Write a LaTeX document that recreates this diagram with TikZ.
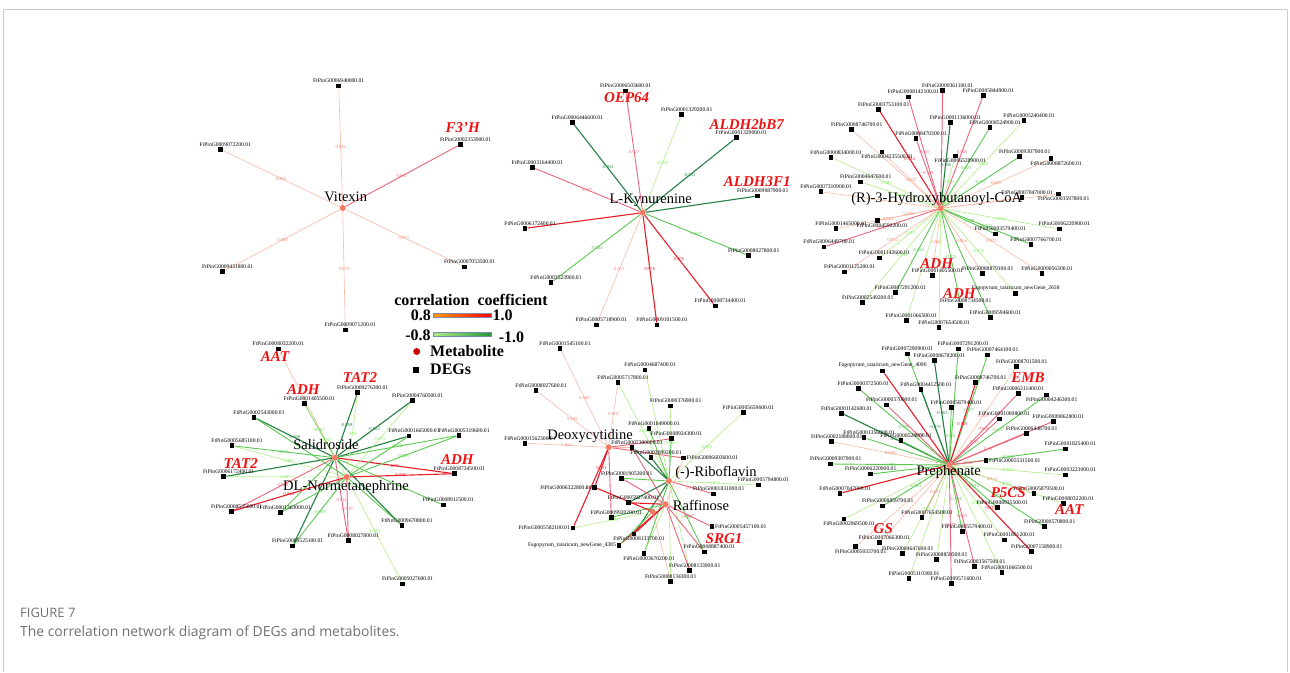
\documentclass[tikz,border=0pt]{standalone}
\usepackage{fontspec}
\setmainfont{Liberation Serif}
\newfontfamily\capfont{Open Sans}
\usepackage{tikz}
\usetikzlibrary{positioning}
\usetikzlibrary{backgrounds}

\definecolor{posA}{RGB}{248,186,165}
\definecolor{posB}{RGB}{236,100,122}
\definecolor{posC}{RGB}{232,30,42}
\definecolor{negA}{RGB}{178,236,136}
\definecolor{negB}{RGB}{92,200,82}
\definecolor{negC}{RGB}{38,128,68}
\definecolor{metred}{RGB}{244,122,102}
\definecolor{keyred}{RGB}{238,18,18}
\definecolor{legred}{RGB}{200,8,8}
\definecolor{barblue}{RGB}{120,140,175}
\definecolor{framegray}{RGB}{205,205,205}
\definecolor{capgray}{RGB}{112,112,112}

\tikzset{
  deg/.style={rectangle, fill=black, minimum size=4.6pt, inner sep=0pt},
  met/.style={circle, fill=metred, minimum size=6pt, inner sep=0pt},
  gname/.style={font=\fontsize{5.6}{6}\selectfont, inner sep=0.5pt},
  gu/.style={label={[gname,xshift=5pt]above:#1}},
  gc/.style={label={[gname]above:#1}},
  gd/.style={label={[gname,xshift=5pt]below:#1}},
  gl/.style={label={[gname]left:#1}},
  gr/.style={label={[gname]right:#1}},
  mname/.style={font=\fontsize{14.5}{15}\selectfont, inner sep=0pt},
  keyname/.style={font=\fontsize{15}{15}\selectfont\bfseries\itshape, text=keyred, inner sep=0pt},
  cval/.style={font=\fontsize{4.6}{4.7}\selectfont, inner sep=0.2pt},
  pa/.style={draw=posA, text=posA!70!red, line width=0.6pt},
  pb/.style={draw=posB, text=posB, line width=0.9pt},
  pc/.style={draw=posC, text=posC, line width=1.1pt},
  na/.style={draw=negA, text=negA!70!green, line width=0.6pt},
  nb/.style={draw=negB, text=negB, line width=0.9pt},
  nc/.style={draw=negC, text=negC, line width=1.1pt},
  legtext/.style={font=\fontsize{16}{16}\selectfont\bfseries, inner sep=0pt},
}

\begin{document}
\begin{tikzpicture}[x=1pt,y=-1pt]
  \useasboundingbox (0,0) rectangle (1290,672);
  \draw[framegray, line width=0.8pt] (3,672) -- (3,9.5) -- (1287,9.5) -- (1287,672);

  % Vitexin
  \node[met] (vit) at (342.7,208) {};
  \node[mname] (vitn) at (345.7,196.5) {Vitexin};
  \node[deg,gc=FtPinG0006940000.01] (v1) at (338.7,86) {};
  \node[deg,gu=FtPinG0009072200.01] (v2) at (220.3,149.3) {};
  \node[deg,gu=FtPinG0002353900.01] (v3) at (460.7,144.3) {};
  \node[deg,gu=FtPinG0009431800.01] (v4) at (222.7,271.7) {};
  \node[deg,gu=FtPinG0007053500.01] (v5) at (464.7,267) {};
  \node[deg,gu=FtPinG0009071200.01] (v6) at (345.3,330) {};
  \node[keyname] (f3h) at (462.7,127.7) {F3’H};

  % L-Kynurenine
  \node[met] (kyn) at (642.7,212.7) {};
  \node[mname] (kynn) at (650.7,200.5) {L-Kynurenine};
  \node[deg,gc=FtPinG0006503600.01] (k1) at (625.7,91) {};
  \node[deg,gu=FtPinG0001329200.01] (k2) at (681.7,114.3) {};
  \node[deg,gu=FtPinG0006446600.01] (k3) at (572.3,122.3) {};
  \node[deg,gu=FtPinG0001329000.01] (k4) at (736.3,137.7) {};
  \node[deg,gu=FtPinG0003164400.01] (k5) at (532.3,167.3) {};
  \node[deg,gu=FtPinG0009987900.01] (k6) at (757.7,196) {};
  \node[deg,gu=FtPinG0006172400.01] (k7) at (525,228.3) {};
  \node[deg,gu=FtPinG0008027800.01] (k8) at (748.7,255.7) {};
  \node[deg,gu=FtPinG0003523900.01] (k9) at (551,282.7) {};
  \node[deg,gu=FtPinG0008734400.01] (k10) at (715.3,306) {};
  \node[deg,gu=FtPinG0005718900.01] (k11) at (596.3,325) {};
  \node[deg,gu=FtPinG0009101500.01] (k12) at (657,325) {};
  \node[keyname] (oep) at (626.7,97.3) {OEP64};
  \node[keyname] (aldha) at (746.7,124.3) {ALDH2bB7};
  \node[keyname] (aldhb) at (757.3,181.7) {ALDH3F1};

  % (R)-3-Hydroxybutanoyl-CoA
  \node[met] (hb) at (940.7,208.3) {};
  \node[mname] (hbn) at (936.7,199.5) {(R)-3-Hydroxybutanoyl-CoA};
  \node[deg,gu=FtPinG0009361100.01] (h1) at (942.7,90.3) {};
  \node[deg,gu=FtPinG0008142100.01] (h2) at (908.3,97) {};
  \node[deg,gu=FtPinG0005844900.01] (h3) at (983.3,95.3) {};
  \node[deg,gu=FtPinG0003753100.01] (h4) at (878.7,109.3) {};
  \node[deg,gu=FtPinG0001136000.01] (h5) at (950.3,122.7) {};
  \node[deg,gu=FtPinG0008524900.01] (h6) at (990,127.3) {};
  \node[deg,gu=FtPinG0005240400.01] (h7) at (1024,120.3) {};
  \node[deg,gu=FtPinG0008746700.01] (h8) at (851.7,129.7) {};
  \node[deg,gu=FtPinG0008470300.01] (h9) at (916,138.7) {};
  \node[deg,gd=FtPinG0004235500.01] (h10) at (882,152) {};
  \node[deg,gu=FtPinG0000834000.01] (h11) at (831,157.3) {};
  \node[deg,gu=FtPinG0009307900.01] (h12) at (1019.7,156.7) {};
  \node[deg,gd=FtPinG0006528900.01] (h13) at (955.3,156) {};
  \node[deg,gd=FtPinG0008872600.01] (h14) at (1051,158.7) {};
  \node[deg,gu=FtPinG0004647600.01] (h15) at (860.7,182) {};
  \node[deg,gu=FtPinG0007310900.01] (h16) at (821,191.7) {};
  \node[deg,gu=FtPinG0007047000.01] (h17) at (1022,197.7) {};
  \node[deg,gd=FtPinG0003597800.01] (h18) at (1058.7,194) {};
  \node[deg,gu=FtPinG0001465000.01] (h19) at (836,228.7) {};
  \node[deg,gd=FtPinG0004590200.01] (h20) at (877.3,220.3) {};
  \node[deg,gu=FtPinG0006449700.01] (h21) at (824,247) {};
  \node[deg,gu=FtPinG0003579400.01] (h22) at (995.3,234) {};
  \node[deg,gu=FtPinG0006220900.01] (h23) at (1059.3,229) {};
  \node[deg,gu=FtPinG0007766700.01] (h24) at (1031,244.3) {};
  \node[deg,gu=FtPinG0001142600.01] (h25) at (879.3,258) {};
  \node[deg,gu=FtPinG0001125200.01] (h26) at (844.7,272) {};
  \node[deg,gu=FtPinG0001405500.01] (h27) at (932.3,275.3) {};
  \node[deg,gu=FtPinG0008879100.01] (h28) at (982.7,273.7) {};
  \node[deg,gu=FtPinG0009056300.01] (h29) at (1042,273.3) {};
  \node[deg,gc={Fagopyrum\_tataricum\_newGene\_2658}] (h30) at (1015.7,293.7) {};
  \node[deg,gu=FtPinG0007291200.01] (h31) at (895.3,292.3) {};
  \node[deg,gu=FtPinG0002549200.01] (h32) at (862.7,302.3) {};
  \node[deg,gu=FtPinG0008734500.01] (h33) at (960.7,305.3) {};
  \node[deg,gu=FtPinG0009594600.01] (h34) at (990.3,317.3) {};
  \node[deg,gu=FtPinG0001066500.01] (h35) at (906.3,320.3) {};
  \node[deg,gu=FtPinG0007654500.01] (h36) at (939,327.7) {};
  \node[keyname] (adha) at (936.7,263.3) {ADH};
  \node[keyname] (adhb) at (959.3,294) {ADH};

  % legend
  \node[legtext] (legt) at (471,300) {correlation\ \ coefficient};
  \node[legtext] (lp8) at (420.8,315) {0.8};
  \node[draw=barblue, left color=orange!80!yellow, right color=red, minimum width=58pt, minimum height=3.5pt, inner sep=0pt] (lbarp) at (462.5,315) {};
  \node[legtext] (lp1) at (502.5,315) {1.0};
  \node[legtext] (ln8) at (418,335) {-0.8};
  \node[draw=barblue, left color=negA, right color=negC!80!green, minimum width=58pt, minimum height=3.5pt, inner sep=0pt] (lbarn) at (462.5,334.3) {};
  \node[legtext] (ln1) at (511.5,337) {-1.0};
  \node[circle, fill=legred, minimum size=7pt, inner sep=0pt] (lmet) at (416.7,351.5) {};
  \node[legtext, anchor=west] (lmett) at (430,351.5) {Metabolite};
  \node[rectangle, fill=black, minimum size=6.5pt, inner sep=0pt] (ldeg) at (416.2,370) {};
  \node[legtext, anchor=west] (ldegt) at (430,369.5) {DEGs};

  % Salidroside and DL-Normetanephrine
  \node[met] (sal) at (335,457.7) {};
  \node[mname] (saln) at (326,445) {Salidroside};
  \node[met] (dln) at (346.7,477) {};
  \node[mname] (dlnn) at (346,487) {DL-Normetanephrine};
  \node[deg,gc=FtPinG0008032200.01] (s1) at (278.3,349) {};
  \node[deg,gu=FtPinG0001405500.01] (s2) at (304.3,403.3) {};
  \node[deg,gu=FtPinG0009276300.01] (s3) at (357.7,392.3) {};
  \node[deg,gu=FtPinG0004760500.01] (s4) at (412.7,400.3) {};
  \node[deg,gu=FtPinG0002543000.01] (s5) at (254,417.3) {};
  \node[deg,gu=FtPinG0001665000.01] (s6) at (409,436) {};
  \node[deg,gu=FtPinG0005319600.01] (s7) at (459,435.3) {};
  \node[deg,gu=FtPinG0005685100.01] (s8) at (232,445.7) {};
  \node[deg,gu=FtPinG0006172400.01] (s9) at (223.7,476.7) {};
  \node[deg,gu=FtPinG0008734500.01] (s10) at (454.3,473.7) {};
  \node[deg,gu=FtPinG0008911500.01] (s11) at (443.3,505) {};
  \node[deg,gu=FtPinG0008535000.01] (s12) at (231.7,511.3) {};
  \node[deg,gu=FtPinG0001363000.01] (s13) at (280.3,512.7) {};
  \node[deg,gu=FtPinG0009670800.01] (s14) at (402,525.7) {};
  \node[deg,gu=FtPinG0008027800.01] (s15) at (348.3,540.7) {};
  \node[deg,gu=FtPinG0005525100.01] (s16) at (292.7,546) {};
  \node[deg,gu=FtPinG0005027600.01] (s17) at (402.7,584) {};
  \node[keyname] (aata) at (275,356.7) {AAT};
  \node[keyname] (adhc) at (303.3,390) {ADH};
  \node[keyname] (tata) at (360,377.3) {TAT2};
  \node[keyname] (tatb) at (240.7,464) {TAT2};
  \node[keyname] (adhd) at (457.3,460) {ADH};

  % Deoxycytidine, (-)-Riboflavin and Raffinose
  \node[met] (dc) at (608.7,447.3) {};
  \node[mname] (dcn) at (590,436) {Deoxycytidine};
  \node[met] (rf) at (669,481) {};
  \node[mname] (rfn) at (716,472.7) {(-)-Riboflavin};
  \node[met] (ra) at (665.7,504.3) {};
  \node[mname] (ran) at (701,505) {Raffinose};
  \node[met] (m4) at (652.7,511.7) {};
  \node[deg,gu=FtPinG0001545100.01] (d1) at (560,348.3) {};
  \node[deg,gu=FtPinG0004687400.01] (d2) at (645,370) {};
  \node[deg,gu=FtPinG0005717800.01] (d3) at (618,382.3) {};
  \node[deg,gu=FtPinG0008027600.01] (d4) at (536,390.3) {};
  \node[deg,gu=FtPinG0000376900.01] (d5) at (670.7,406) {};
  \node[deg,gu=FtPinG0005659600.01] (d6) at (743.3,412.3) {};
  \node[deg,gu=FtPinG0001849000.01] (d7) at (649,428.7) {};
  \node[deg,gu=FtPinG0008924300.01] (d8) at (671.3,438.7) {};
  \node[deg,gu=FtPinG0001562300.01] (d9) at (525,443.3) {};
  \node[deg,gu=FtPinG0007300600.01] (d10) at (632,447.3) {};
  \node[deg,gu=FtPinG0003099200.01] (d11) at (651,457.3) {};
  \node[deg,gr=FtPinG0006603600.01] (d12) at (683.7,458) {};
  \node[deg,gu=FtPinG0001905300.01] (d13) at (621.7,478.3) {};
  \node[deg,gu=FtPinG0005794800.01] (d14) at (758.3,485) {};
  \node[deg,gl=FtPinG0006322800.01] (d15) at (594.7,487.3) {};
  \node[deg,gu=FtPinG0001831000.01] (d16) at (713.7,494) {};
  \node[deg,gu=FtPinG0005927400.01] (d17) at (628.3,502.7) {};
  \node[deg,gu=FtPinG0009920200.01] (d18) at (611.3,517.3) {};
  \node[deg,gl=FtPinG0005582100.01] (d19) at (573,528) {};
  \node[deg,gr=FtPinG0005457100.01] (d20) at (712,526.7) {};
  \node[deg,gd=FtPinG0008133700.01] (d21) at (634,534) {};
  \node[deg,gl={Fagopyrum\_tataricum\_newGene\_4385}] (d22) at (619,545.3) {};
  \node[deg,gu=FtPinG0008887400.01] (d23) at (704.3,552) {};
  \node[deg,gd=FtPinG0003670200.01] (d24) at (644,553.7) {};
  \node[deg,gu=FtPinG0008133900.01] (d25) at (689.7,570.3) {};
  \node[deg,gc=FtPinG0008134300.01] (d26) at (670.7,581.7) {};
  \node[keyname] (srg) at (724,539) {SRG1};

  % Prephenate
  \node[met] (pre) at (949.3,465) {};
  \node[mname] (pren) at (948.7,472) {Prephenate};
  \node[deg,gu=FtPinG0007291200.01] (p1) at (958.3,349) {};
  \node[deg,gc=FtPinG0007290900.01] (p2) at (907.3,354) {};
  \node[deg,gu=FtPinG0008678200.01] (p3) at (934.3,360.7) {};
  \node[deg,gu=FtPinG0007464100.01] (p4) at (987.7,355) {};
  \node[deg,gu=FtPinG0008701500.01] (p5) at (1016.7,366.7) {};
  \node[deg,gc={Fagopyrum\_tataricum\_newGene\_4090}] (p6) at (882.7,371) {};
  \node[deg,gu=FtPinG0008746700.01] (p7) at (975.7,382.7) {};
  \node[deg,gu=FtPinG0000372500.01] (p8) at (858.3,388.3) {};
  \node[deg,gu=FtPinG0004412500.01] (p9) at (921,389.5) {};
  \node[deg,gc=FtPinG0006311400.01] (p10) at (1018.3,393.3) {};
  \node[deg,gd=FtPinG0004246300.01] (p11) at (1046.7,395) {};
  \node[deg,gu=FtPinG0000570000.01] (p12) at (886.7,405) {};
  \node[deg,gu=FtPinG0005879400.01] (p13) at (951.3,407.7) {};
  \node[deg,gu=FtPinG0001142600.01] (p14) at (841.7,413.3) {};
  \node[deg,gu=FtPinG0001000800.01] (p15) at (999.3,419) {};
  \node[deg,gu=FtPinG0009862800.01] (p16) at (1053.3,421.3) {};
  \node[deg,gu=FtPinG0001356000.01] (p17) at (864,437.7) {};
  \node[deg,gu=FtPinG0008524900.01] (p18) at (901,440.7) {};
  \node[deg,gu=FtPinG0002188000.01] (p19) at (831.7,441.7) {};
  \node[deg,gu=FtPinG0006448700.01] (p20) at (1026.7,433.3) {};
  \node[deg,gu=FtPinG0001825400.01] (p21) at (1065.3,449) {};
  \node[deg,gr=FtPinG0005531500.01] (p22) at (986,460.5) {};
  \node[deg,gu=FtPinG0003223000.01] (p23) at (1065.3,475) {};
  \node[deg,gu=FtPinG0009307900.01] (p24) at (830.7,464) {};
  \node[deg,gc=FtPinG0006220900.01] (p25) at (870.7,474) {};
  \node[deg,gu=FtPinG0007047000.01] (p26) at (840,493.3) {};
  \node[deg,gu=FtPinG0008859700.01] (p27) at (882.7,506) {};
  \node[deg,gu=FtPinG0005879500.01] (p28) at (1034,493.3) {};
  \node[deg,gu=FtPinG0008935500.01] (p29) at (997.3,507.7) {};
  \node[deg,gu=FtPinG0008032200.01] (p30) at (1063.3,503.3) {};
  \node[deg,gu=FtPinG0007654500.01] (p31) at (922,517.7) {};
  \node[deg,gd=FtPinG0002969500.01] (p32) at (844,519) {};
  \node[deg,gu=FtPinG0000570800.01] (p33) at (1044.7,526.7) {};
  \node[deg,gu=FtPinG0005579400.01] (p34) at (962.3,531.7) {};
  \node[deg,gu=FtPinG0007066300.01] (p35) at (879.3,542.7) {};
  \node[deg,gu=FtPinG0001891200.01] (p36) at (1004.3,540) {};
  \node[deg,gu=FtPinG0007158900.01] (p37) at (1031.7,551.7) {};
  \node[deg,gd=FtPinG0005033700.01] (p38) at (855.7,546.7) {};
  \node[deg,gu=FtPinG0004647600.01] (p39) at (902.7,553.3) {};
  \node[deg,gu=FtPinG0008859500.01] (p40) at (936.7,559.3) {};
  \node[deg,gu=FtPinG0003567500.01] (p41) at (974.7,566.3) {};
  \node[deg,gu=FtPinG0001066500.01] (p42) at (1002,572.3) {};
  \node[deg,gu=FtPinG0005110300.01] (p43) at (909,578.3) {};
  \node[deg,gu=FtPinG0009571600.01] (p44) at (951.3,583.7) {};
  \node[keyname] (emb) at (1028,377.3) {EMB};
  \node[keyname] (p5cs) at (1008.3,492.7) {P5CS};
  \node[keyname] (aatb) at (1069.3,509.3) {AAT};
  \node[keyname] (gs) at (883.3,528.7) {GS};

  % caption
  \node[anchor=base west, inner sep=0pt, text=capgray, font=\capfont\fontsize{13}{13}\selectfont] (fig) at (20,617.5) {FIGURE 7};
  \node[anchor=base west, inner sep=0pt, text=capgray, font=\capfont\fontsize{13.9}{15}\selectfont] (cap) at (20,636.5) {The correlation network diagram of DEGs and metabolites.};

  \begin{scope}[on background layer]
  \path (vit) edge[pa] node[cval]{0.842} (v1) edge[pa] node[cval]{0.823} (v2)
    edge[pb] node[cval]{0.916} (v3) edge[pa] node[cval]{0.809} (v4)
    edge[pa] node[cval]{0.877} (v5) edge[pa] node[cval]{0.873} (v6);
  \path (kyn) edge[pb] node[cval]{0.927} (k1) edge[na] node[cval]{-0.809} (k2)
    edge[nc] node[cval]{-0.953} (k3) edge[nc] node[cval]{-0.951} (k4)
    edge[pb] node[cval]{0.927} (k5) edge[nc] (k6) edge[pc] (k7)
    edge[nb] node[cval]{-0.837} (k8) edge[nb] node[cval]{-0.844} (k9)
    edge[pc] node[cval]{0.976} (k10) edge[pa] node[cval]{0.812} (k11)
    edge[pc] node[cval]{0.976} (k12);
  \path (hb) edge[pb] (h1) edge[pb] node[cval]{0.915} (h2) edge[pb] node[cval]{0.946} (h3)
    edge[pc] node[cval]{0.954} (h4) edge[nc] node[cval]{-0.956} (h5)
    edge[nb] node[cval]{-0.925} (h6) edge[na] node[cval]{-0.886} (h7) edge[pa] (h8)
    edge[pb] node[cval]{0.919} (h9) edge[pa] node[cval]{0.927} (h10)
    edge[na] node[cval]{-0.886} (h11) edge[nb] node[cval]{-0.931} (h12)
    edge[na] node[cval]{-0.854} (h13) edge[pa] node[cval]{0.825} (h14)
    edge[na] node[cval]{-0.818} (h15) edge[pa] (h16) edge[pa] (h17) edge[pa] (h18)
    edge[pa] node[cval]{0.865} (h19) edge[pa] node[cval]{0.885} (h20)
    edge[pb] node[cval]{0.93} (h21) edge[nb] node[cval]{-0.928} (h22)
    edge[na] node[cval]{-0.866} (h23) edge[nb] node[cval]{-0.862} (h24)
    edge[na] node[cval]{-0.857} (h25) edge[pa] node[cval]{0.812} (h26)
    edge[pa] node[cval]{0.845} (h27) edge[pa] node[cval]{0.864} (h28)
    edge[pa] node[cval]{0.833} (h29) edge[na] node[cval]{-0.906} (h30)
    edge[nb] node[cval]{-0.924} (h31) edge[na] node[cval]{-0.893} (h32)
    edge[nb] node[cval]{-0.915} (h33) edge[nb] (h34) edge[na] (h35) edge[na] (h36);
  \path (sal) edge[pa] (s1) edge[nb] node[cval]{-0.917} (s2) edge[nc] node[cval]{-0.958} (s3)
    edge[nc] node[cval]{-0.902} (s4) edge[nc] node[cval]{-0.968} (s5) edge[nc] (s6)
    edge[nb] node[cval]{-0.947} (s7) edge[nb] node[cval]{-0.901} (s8) edge[nc] (s9)
    edge[pc] node[cval]{0.97} (s10) edge[nb] (s11) edge[pb] node[cval]{0.958} (s12)
    edge[nb] (s13) edge[nc] (s14) edge[pb] node[cval]{0.916} (s15) edge[nc] (s16);
  \path (dln) edge[na] node[cval]{-0.882} (s2) edge[na] node[cval]{-0.85} (s3)
    edge[na] node[cval]{-0.875} (s4) edge[nb] (s5) edge[nb] (s6)
    edge[nb] node[cval]{-0.905} (s7) edge[na] node[cval]{-0.867} (s8)
    edge[na] node[cval]{-0.897} (s9) edge[pc] node[cval]{0.971} (s10)
    edge[pc] node[cval]{0.962} (s12) edge[nb] (s13) edge[nb] (s14)
    edge[pb] node[cval]{0.919} (s15) edge[nb] node[cval]{-0.939} (s16)
    edge[na] node[cval]{-0.883} (s17);
  \path (dc) edge[pa] node[cval]{0.843} (d1) edge[pa] node[cval]{0.818} (d3)
    edge[pa] node[cval]{0.841} (d4) edge[pa] node[cval]{0.866} (d9) edge[pb] (d8)
    edge[pb] (d12) edge[pc] node[cval]{0.931} (d15) edge[pb] (d18)
    edge[pc] node[cval]{0.933} (d19) edge[pa] (d10);
  \path (rf) edge[na] (d2) edge[na] node[cval]{-0.844} (d3) edge[na] node[cval]{-0.826} (d5)
    edge[na] node[cval]{-0.829} (d6) edge[nb] (d7) edge[nb] (d8) edge[nc] (d10)
    edge[nc] (d11) edge[nb] (d13) edge[na] node[cval]{-0.873} (d14)
    edge[pb] node[cval]{0.915} (d16) edge[nc] (d17) edge[nc] (d21)
    edge[nb] node[cval]{-0.946} (d23) edge[nb] (d24) edge[na] (d25) edge[na] (d26);
  \path (ra) edge[pb] (d10) edge[pb] (d13) edge[pc] (d17) edge[nb] (d18)
    edge[pb] node[cval]{0.937} (d20) edge[pc] (d21) edge[pc] (d22) edge[pb] (d23)
    edge[na] (d24) edge[pb] (d25) edge[pa] (d12);
  \path (m4) edge[na] node[cval]{-0.895} (d19) edge[nb] (d22) edge[pa] (d26) edge[pc] (d15);
  \path (pre) edge[nb] (p1) edge[nb] (p2) edge[nc] node[cval]{-0.965} (p3)
    edge[nb] node[cval]{-0.927} (p4) edge[pa] node[cval]{0.869} (p5) edge[pc] (p6)
    edge[pc] node[cval]{0.956} (p7) edge[nb] node[cval]{-0.929} (p8)
    edge[nc] node[cval]{-0.876} (p9) edge[pb] node[cval]{0.936} (p10)
    edge[nb] node[cval]{-0.927} (p11) edge[pb] node[cval]{0.938} (p12)
    edge[nb] node[cval]{-0.901} (p13) edge[nc] node[cval]{-0.952} (p14)
    edge[pb] node[cval]{0.93} (p15) edge[pb] (p16) edge[nb] (p17) edge[nb] (p18)
    edge[pa] node[cval]{0.869} (p19) edge[pb] node[cval]{0.93} (p20)
    edge[nb] node[cval]{-0.924} (p21) edge[pb] node[cval]{0.94} (p22)
    edge[na] node[cval]{-0.884} (p23) edge[nb] node[cval]{-0.905} (p24) edge[nb] (p25)
    edge[pc] (p26) edge[nb] node[cval]{-0.866} (p27) edge[pa] node[cval]{0.812} (p28)
    edge[nb] node[cval]{-0.816} (p29) edge[na] node[cval]{-0.915} (p30)
    edge[pb] node[cval]{0.931} (p31) edge[na] (p32) edge[nb] node[cval]{-0.915} (p33)
    edge[nb] node[cval]{-0.948} (p34) edge[pa] (p35) edge[na] node[cval]{-0.866} (p36)
    edge[pc] node[cval]{0.937} (p37) edge[pa] (p38) edge[na] node[cval]{-0.86} (p39)
    edge[na] node[cval]{-0.936} (p40) edge[pb] node[cval]{0.903} (p41)
    edge[na] (p42) edge[na] (p43) edge[pb] node[cval]{0.939} (p44);
  \end{scope}
\end{tikzpicture}
\end{document}
